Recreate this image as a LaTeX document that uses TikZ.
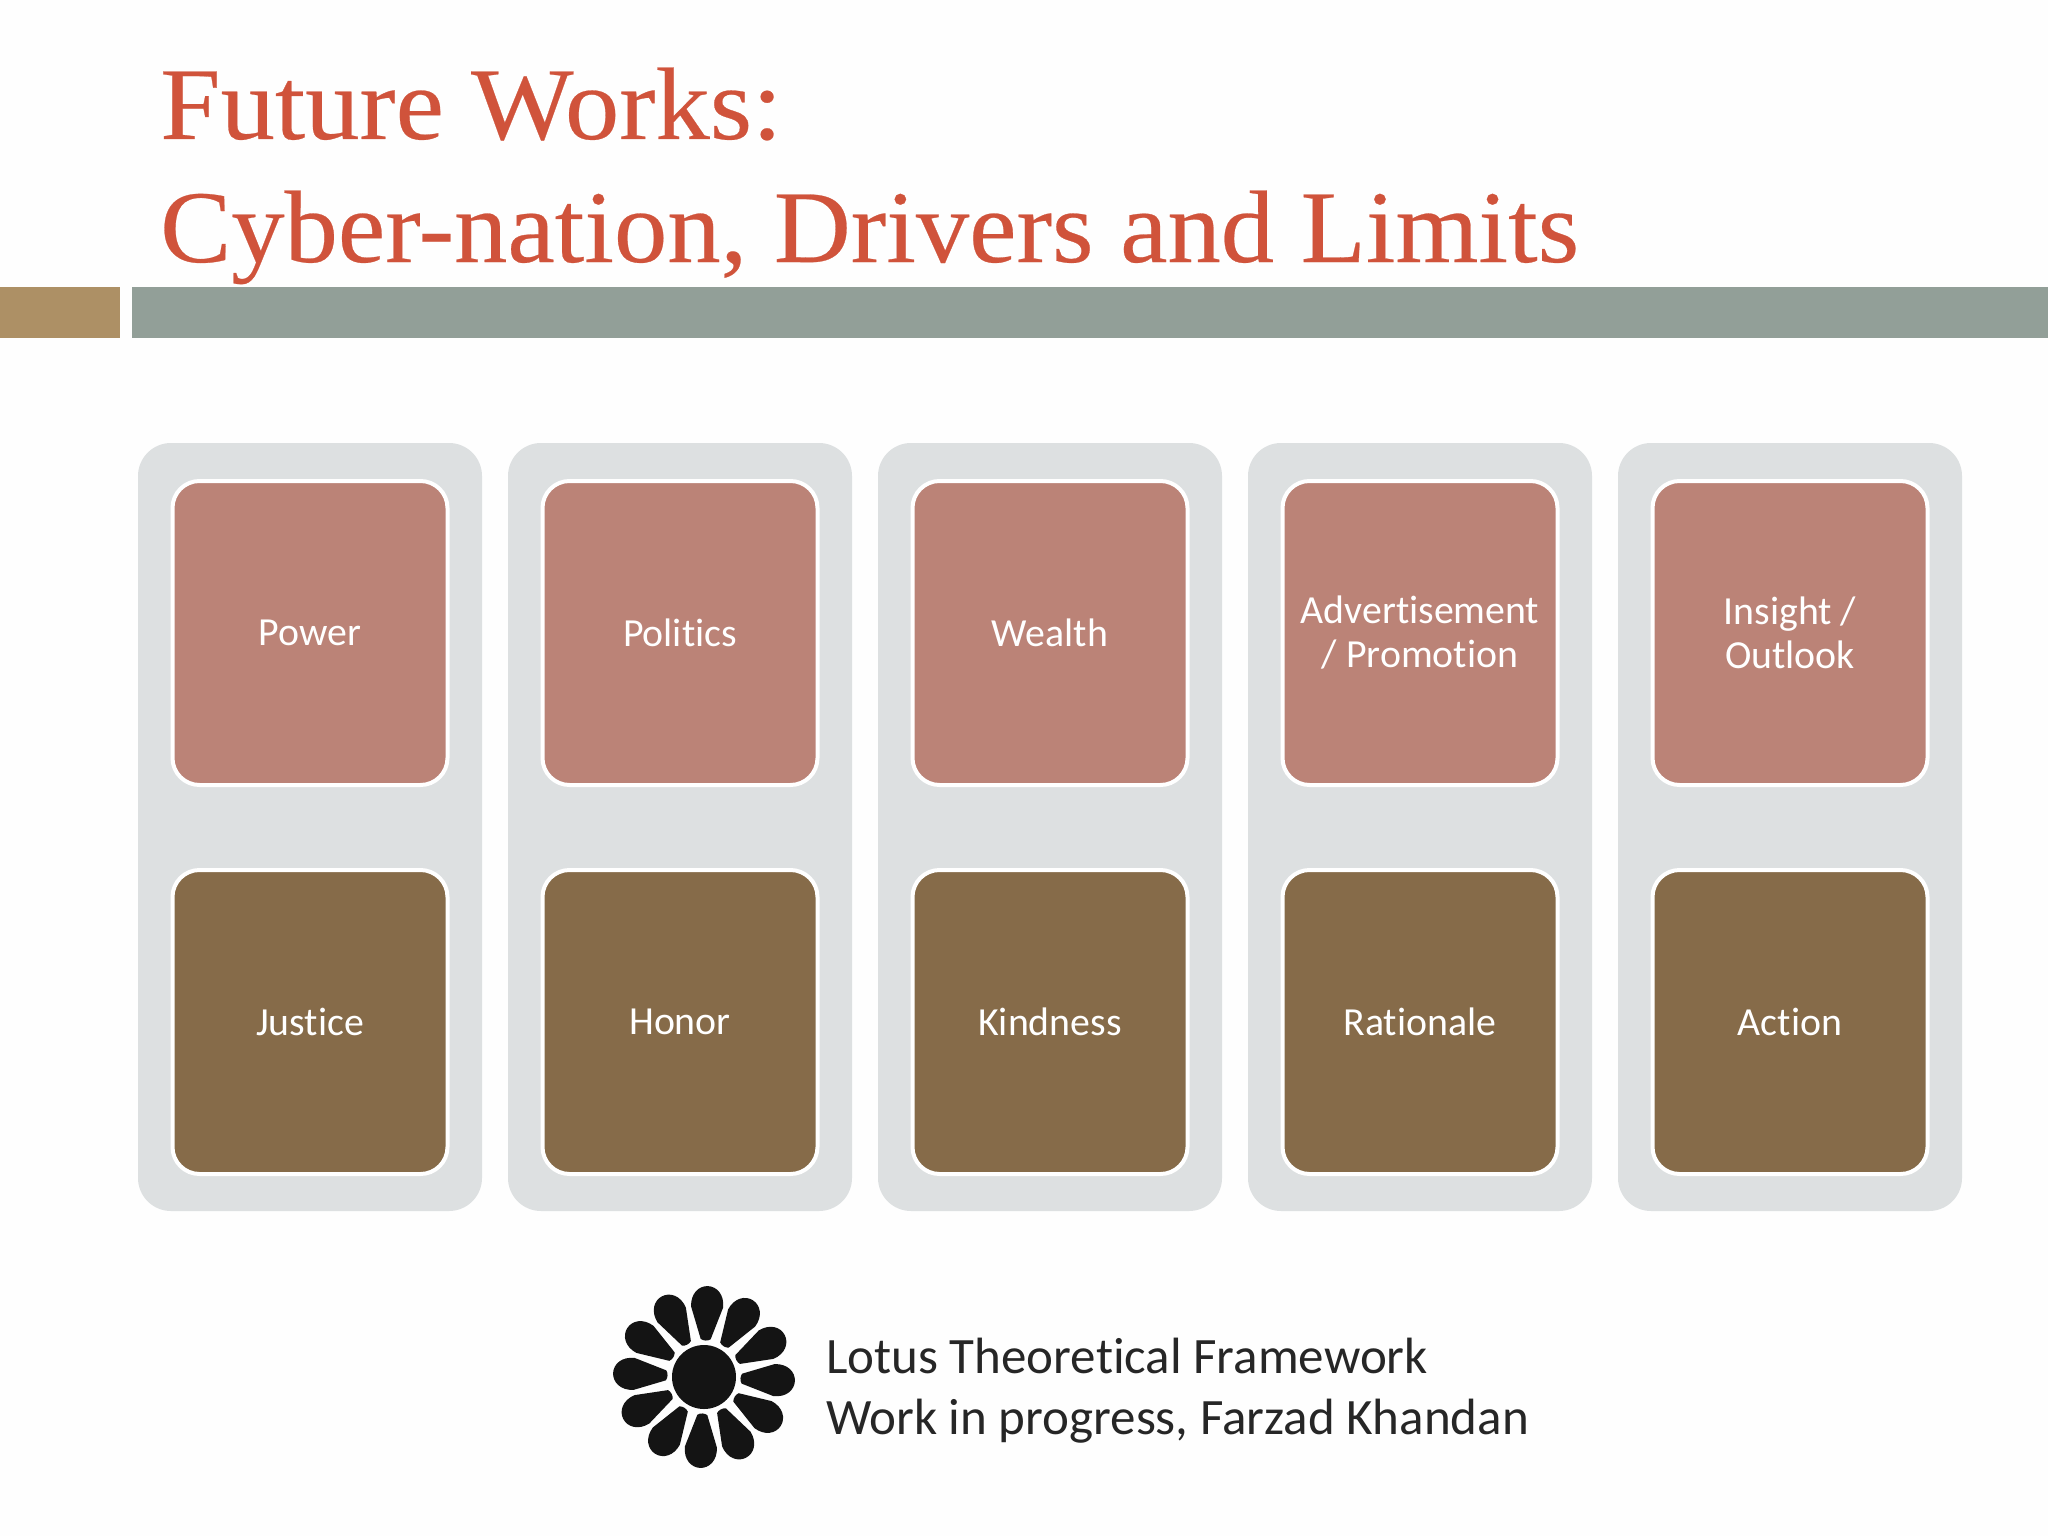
\documentclass[tikz,border=0pt]{standalone}
\usepackage{fontspec}
\setmainfont[Ligatures=NoCommon]{Carlito}
\newfontfamily\titlefontA[FakeStretch=1.055,FakeBold=0.25]{Liberation Serif}
\newfontfamily\titlefontB[FakeStretch=1.035,FakeBold=0.25]{Liberation Serif}
\definecolor{bgc}{HTML}{FEFEFE}
\definecolor{titlec}{HTML}{D0533B}
\definecolor{tanc}{HTML}{AD9065}
\definecolor{greyc}{HTML}{929F98}
\definecolor{panelc}{HTML}{DDE0E1}
\definecolor{pinkc}{HTML}{BB8377}
\definecolor{brownc}{HTML}{866B49}
\definecolor{inkc}{HTML}{262626}
\newcommand{\oneline}[1]{\raisebox{1.3pt}{#1}}
\tikzset{
  panelbox/.style={fill=panelc,rounded corners=33pt,minimum width=344pt,minimum height=768pt,inner sep=0pt},
  card/.style={draw=white,line width=4pt,rounded corners=27pt,minimum width=275pt,minimum height=304pt,inner sep=0pt,
    text=white,align=center,font=\fontsize{39.8}{44}\selectfont},
  topcard/.style={card,fill=pinkc},
  lowcard/.style={card,fill=brownc},
  titletext/.style={anchor=base west,inner sep=0pt,text=titlec},
  foottext/.style={anchor=base west,inner sep=0pt,text=inkc,font=\fontsize{51}{51}\selectfont},
  petal/.style={fill=black!92}
}
\begin{document}
\begin{tikzpicture}[x=1pt,y=-1pt]
\useasboundingbox (0,0) rectangle (2048,1536);
\fill[bgc] (0,0) rectangle (2048,1536);
\node[titletext,font=\titlefontA\fontsize{103}{103}\selectfont] (t1) at (160,139) {Future Works:};
\node[titletext,font=\titlefontB\fontsize{103}{103}\selectfont] (t2) at (160,262) {Cyber-nation, Drivers and Limits};
\fill[tanc] (0,287) rectangle (120,338);
\fill[greyc] (132,287) rectangle (2048,338);
\foreach \cx/\up/\lo/\n in {310/{\oneline{Power}}/Justice/1,680/{\oneline{Politics}}/Honor/2,1050/{\oneline{Wealth}}/Kindness/3,1420/{Advertisement\\/ Promotion}/Rationale/4,1790/{Insight /\\Outlook}/Action/5}{
  \node[panelbox] (panel\n) at (\cx,827) {};
  \node[topcard] (up\n) at (\cx,633) {\up};
  \node[lowcard] (lo\n) at (\cx,1022) {\oneline{\lo}};
}
\foreach \a in {0,30,...,330}{
  \begin{scope}[shift={(704,1377)},rotate=\a-2.5]
    \fill[petal] (38,-5) -- (70,-16) .. controls (83,-17) and (91,-9) .. (91,0)
      .. controls (91,9) and (83,17) .. (70,16) -- (38,5)
      .. controls (36,2.5) and (36,-2.5) .. (38,-5) -- cycle;
  \end{scope}
}
\fill[petal] (704,1377) circle[radius=32];
\node[foottext] (f1) at (826,1373) {Lotus Theoretical Framework};
\node[foottext] (f2) at (826,1434) {Work in progress, Farzad Khandan};
\end{tikzpicture}
\end{document}
